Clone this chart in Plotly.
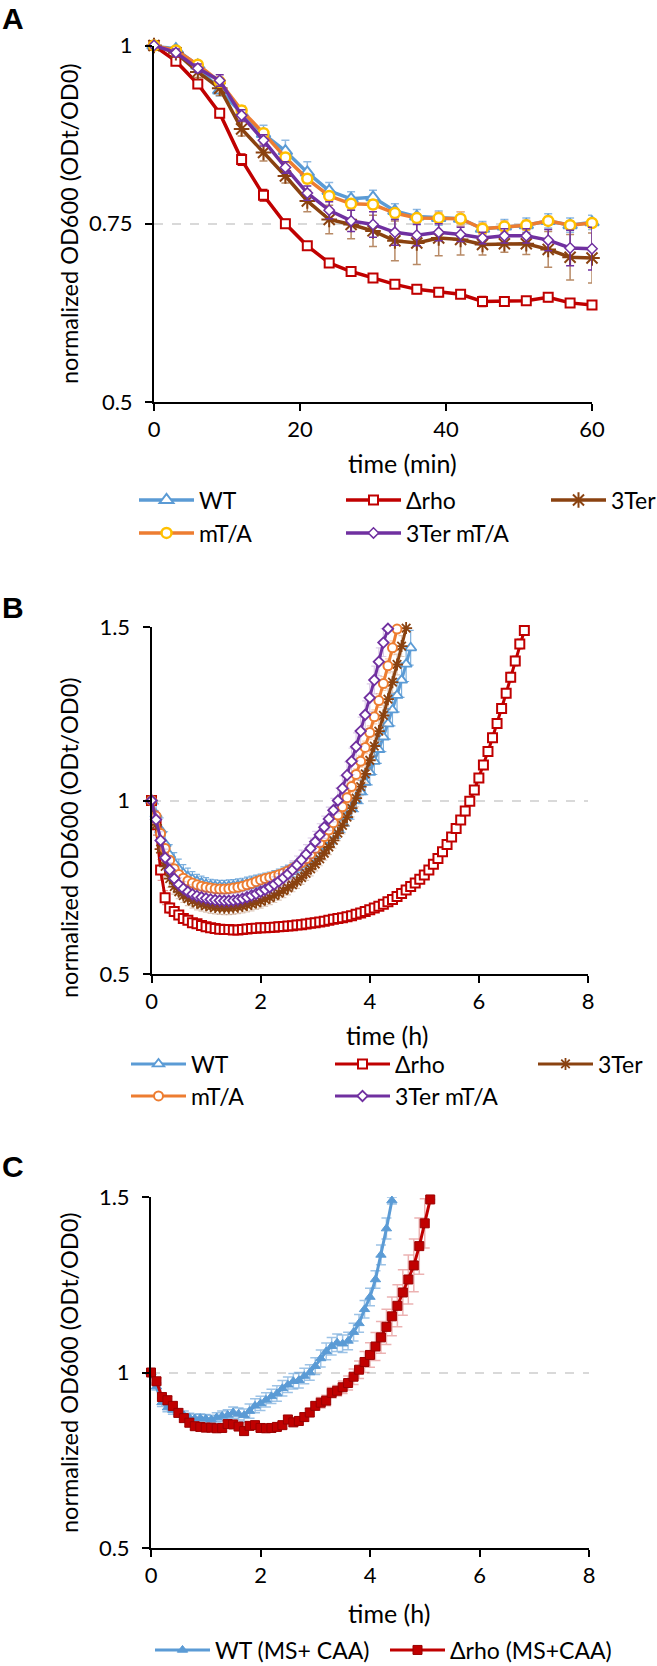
import plotly.graph_objects as go

W, H = 657, 1666

# ---------------- Panel A data (time in min) ----------------
time_A = [0, 3, 6, 9, 12, 15, 18, 21, 24, 27, 30, 33, 36, 39, 42, 45, 48, 51, 54, 57, 60]
A_WT = [1.0, 0.995, 0.972, 0.937, 0.905, 0.876, 0.852, 0.822, 0.796, 0.785, 0.787, 0.768, 0.76, 0.758, 0.757, 0.743, 0.746, 0.748, 0.754, 0.748, 0.752]
A_WT_err = [0, 0.004, 0.005, 0.008, 0.01, 0.012, 0.015, 0.015, 0.012, 0.01, 0.01, 0.01, 0.01, 0.01, 0.01, 0.01, 0.01, 0.01, 0.01, 0.01, 0.01]
A_rho = [1.0, 0.978, 0.946, 0.905, 0.84, 0.79, 0.75, 0.719, 0.695, 0.683, 0.674, 0.665, 0.658, 0.654, 0.651, 0.641, 0.641, 0.642, 0.647, 0.639, 0.636]
A_rho_err = [0, 0.004, 0.005, 0.006, 0.008, 0.008, 0.006, 0.005, 0.004, 0.004, 0.004, 0.005, 0.006, 0.006, 0.004, 0.007, 0.005, 0.004, 0.006, 0.004, 0.005]
A_3Ter = [1.0, 0.99, 0.963, 0.94, 0.883, 0.85, 0.817, 0.782, 0.756, 0.749, 0.74, 0.726, 0.723, 0.73, 0.728, 0.721, 0.722, 0.722, 0.714, 0.703, 0.702]
A_3Ter_err = [0, 0.005, 0.008, 0.01, 0.01, 0.012, 0.01, 0.015, 0.02, 0.02, 0.022, 0.028, 0.03, 0.025, 0.022, 0.015, 0.012, 0.015, 0.025, 0.032, 0.035]
A_mTA = [1.0, 0.993, 0.973, 0.949, 0.909, 0.877, 0.843, 0.813, 0.789, 0.778, 0.777, 0.765, 0.758, 0.758, 0.757, 0.743, 0.746, 0.748, 0.754, 0.748, 0.751]
A_mTA_err = [0, 0.005, 0.005, 0.006, 0.006, 0.006, 0.006, 0.006, 0.006, 0.005, 0.006, 0.006, 0.006, 0.008, 0.01, 0.008, 0.008, 0.007, 0.006, 0.006, 0.006]
A_3TermTA = [1.0, 0.99, 0.968, 0.951, 0.902, 0.867, 0.829, 0.793, 0.769, 0.754, 0.749, 0.738, 0.734, 0.738, 0.735, 0.73, 0.733, 0.733, 0.727, 0.716, 0.715]
A_3TermTA_err = [0, 0.005, 0.006, 0.008, 0.008, 0.008, 0.008, 0.01, 0.012, 0.015, 0.018, 0.018, 0.015, 0.012, 0.01, 0.008, 0.01, 0.01, 0.015, 0.025, 0.03]

# ---------------- Panel B data (5-min readings) ----------------
time_B_min = [0, 5, 10, 15, 20, 25, 30, 35, 40, 45, 50, 55, 60, 65, 70, 75, 80, 85, 90, 95,
              100, 105, 110, 115, 120, 125, 130, 135, 140, 145, 150, 155, 160, 165, 170, 175, 180, 185, 190, 195,
              200, 205, 210, 215, 220, 225, 230, 235, 240, 245, 250, 255, 260, 265, 270, 275, 280, 285, 290, 295,
              300, 305, 310, 315, 320, 325, 330, 335, 340, 345, 350, 355, 360, 365, 370, 375, 380, 385, 390, 395,
              400, 405, 410]
B_WT = [1.0, 0.96, 0.915, 0.875, 0.843, 0.82, 0.803, 0.79, 0.78, 0.773, 0.767, 0.762, 0.758, 0.755, 0.753, 0.752, 0.752, 0.753, 0.754, 0.756,
        0.758, 0.761, 0.764, 0.767, 0.77, 0.773, 0.776, 0.78, 0.784, 0.789, 0.794, 0.8, 0.807, 0.815, 0.824, 0.834, 0.845, 0.857, 0.87, 0.885,
        0.901, 0.918, 0.936, 0.956, 0.977, 1.0, 1.025, 1.052, 1.081, 1.113, 1.147, 1.183, 1.221, 1.261, 1.303, 1.347, 1.393, 1.44]
B_WT_err = [0, 0.03, 0.035, 0.035, 0.03, 0.03, 0.028, 0.025, 0.025, 0.022, 0.02, 0.02, 0.02, 0.018, 0.018, 0.018, 0.018, 0.018, 0.018, 0.018,
            0.018, 0.018, 0.018, 0.018, 0.018, 0.018, 0.018, 0.018, 0.018, 0.02, 0.02, 0.02, 0.02, 0.022, 0.022, 0.022, 0.024, 0.024, 0.025, 0.025,
            0.026, 0.027, 0.028, 0.03, 0.031, 0.032, 0.034, 0.035, 0.036, 0.038, 0.04, 0.042, 0.044, 0.046, 0.048, 0.05, 0.05, 0.05]
B_rho = [1.0, 0.93, 0.8, 0.72, 0.69, 0.68, 0.67, 0.66, 0.655, 0.648, 0.645, 0.64, 0.636, 0.633, 0.631, 0.629, 0.628, 0.628, 0.627, 0.627,
         0.628, 0.63, 0.631, 0.632, 0.633, 0.633, 0.634, 0.635, 0.636, 0.637, 0.638, 0.639, 0.641, 0.642, 0.644, 0.646, 0.648, 0.65, 0.652, 0.655,
         0.658, 0.66, 0.662, 0.665, 0.668, 0.672, 0.676, 0.68, 0.685, 0.69, 0.695, 0.701, 0.708, 0.715, 0.723, 0.732, 0.742, 0.752, 0.762, 0.773,
         0.785, 0.8, 0.816, 0.833, 0.852, 0.873, 0.895, 0.919, 0.944, 0.97, 0.998, 1.03, 1.065, 1.102, 1.141, 1.181, 1.222, 1.265, 1.309, 1.355,
         1.402, 1.451, 1.49]
B_rho_err = [0, 0.03, 0.03, 0.02, 0.015, 0.012, 0.01, 0.01, 0.01, 0.01, 0.008, 0.008, 0.008, 0.008, 0.008, 0.008, 0.008, 0.008, 0.008, 0.008,
             0.008, 0.008, 0.008, 0.008, 0.008, 0.008, 0.008, 0.008, 0.008, 0.008, 0.008, 0.008, 0.008, 0.008, 0.008, 0.008, 0.008, 0.008, 0.008, 0.008,
             0.008, 0.008, 0.008, 0.008, 0.008, 0.008, 0.008, 0.008, 0.008, 0.008, 0.008, 0.008, 0.009, 0.009, 0.009, 0.009, 0.009, 0.01, 0.01, 0.01,
             0.01, 0.01, 0.01, 0.01, 0.01, 0.011, 0.011, 0.011, 0.011, 0.012, 0.012, 0.012, 0.012, 0.013, 0.013, 0.013, 0.014, 0.014, 0.014, 0.015,
             0.015, 0.015, 0.01]
B_3Ter = [1.0, 0.93, 0.86, 0.81, 0.775, 0.752, 0.737, 0.726, 0.717, 0.71, 0.705, 0.701, 0.698, 0.695, 0.693, 0.692, 0.691, 0.691, 0.692, 0.694,
          0.696, 0.699, 0.702, 0.706, 0.71, 0.715, 0.72, 0.726, 0.733, 0.74, 0.748, 0.757, 0.767, 0.778, 0.79, 0.803, 0.817, 0.832, 0.848, 0.866,
          0.885, 0.906, 0.928, 0.952, 0.978, 1.007, 1.04, 1.077, 1.116, 1.157, 1.2, 1.245, 1.292, 1.341, 1.392, 1.445, 1.497]
B_3Ter_err = [0, 0.03, 0.03, 0.03, 0.025, 0.022, 0.02, 0.02, 0.02, 0.02, 0.02, 0.02, 0.02, 0.02, 0.02, 0.02, 0.02, 0.02, 0.02, 0.02,
              0.02, 0.02, 0.02, 0.02, 0.02, 0.02, 0.02, 0.02, 0.02, 0.02, 0.02, 0.02, 0.02, 0.02, 0.02, 0.02, 0.02, 0.02, 0.02, 0.022,
              0.022, 0.022, 0.024, 0.024, 0.025, 0.025, 0.026, 0.027, 0.028, 0.029, 0.03, 0.03, 0.03, 0.03, 0.03, 0.03, 0.0]
B_mTA = [1.0, 0.955, 0.905, 0.862, 0.828, 0.803, 0.787, 0.776, 0.768, 0.762, 0.757, 0.753, 0.75, 0.748, 0.746, 0.745, 0.745, 0.746, 0.748, 0.75,
         0.753, 0.757, 0.761, 0.766, 0.771, 0.775, 0.778, 0.782, 0.786, 0.791, 0.797, 0.804, 0.812, 0.821, 0.832, 0.846, 0.862, 0.878, 0.896, 0.915,
         0.936, 0.958, 0.982, 1.008, 1.04, 1.075, 1.113, 1.153, 1.196, 1.241, 1.288, 1.337, 1.388, 1.44, 1.494]
B_mTA_err = [0, 0.015, 0.015, 0.012, 0.012, 0.01, 0.01, 0.01, 0.01, 0.01, 0.01, 0.01, 0.01, 0.01, 0.01, 0.01, 0.01, 0.01, 0.01, 0.01,
             0.01, 0.01, 0.01, 0.01, 0.01, 0.01, 0.01, 0.01, 0.01, 0.01, 0.01, 0.01, 0.01, 0.012, 0.012, 0.012, 0.012, 0.012, 0.013, 0.013,
             0.014, 0.014, 0.015, 0.015, 0.016, 0.016, 0.017, 0.018, 0.019, 0.02, 0.02, 0.02, 0.02, 0.02, 0.0]
B_3TermTA = [1.0, 0.945, 0.885, 0.835, 0.8, 0.775, 0.758, 0.746, 0.737, 0.73, 0.725, 0.721, 0.718, 0.715, 0.713, 0.712, 0.711, 0.711, 0.712, 0.714,
             0.717, 0.721, 0.726, 0.731, 0.737, 0.743, 0.75, 0.758, 0.767, 0.777, 0.788, 0.8, 0.814, 0.829, 0.845, 0.862, 0.881, 0.901, 0.923, 0.947,
             0.972, 1.0, 1.035, 1.073, 1.113, 1.155, 1.2, 1.247, 1.296, 1.347, 1.4, 1.455, 1.495]
B_3TermTA_err = [0, 0.025, 0.025, 0.025, 0.02, 0.02, 0.02, 0.02, 0.02, 0.02, 0.02, 0.02, 0.02, 0.02, 0.02, 0.02, 0.02, 0.02, 0.02, 0.02,
                 0.02, 0.02, 0.02, 0.02, 0.02, 0.02, 0.02, 0.022, 0.022, 0.024, 0.024, 0.026, 0.026, 0.028, 0.028, 0.03, 0.03, 0.032, 0.032, 0.034,
                 0.034, 0.036, 0.036, 0.038, 0.038, 0.04, 0.04, 0.04, 0.04, 0.04, 0.04, 0.04, 0.0]

# ---------------- Panel C data (6-min readings, h) ----------------
time_C = [0.0, 0.1, 0.2, 0.3, 0.4, 0.5, 0.6, 0.7, 0.8, 0.9, 1.0, 1.1, 1.2, 1.3, 1.4, 1.5, 1.6, 1.7, 1.8, 1.9,
          2.0, 2.1, 2.2, 2.3, 2.4, 2.5, 2.6, 2.7, 2.8, 2.9, 3.0, 3.1, 3.2, 3.3, 3.4, 3.5, 3.6, 3.7, 3.8, 3.9,
          4.0, 4.1, 4.2, 4.3, 4.4, 4.5, 4.6, 4.7, 4.8, 4.9, 5.0, 5.1]
C_WT = [1.0, 0.96, 0.915, 0.9, 0.893, 0.885, 0.878, 0.872, 0.869, 0.87, 0.868, 0.866, 0.872, 0.876, 0.879, 0.886, 0.882, 0.878, 0.89, 0.905,
        0.912, 0.922, 0.932, 0.94, 0.955, 0.965, 0.975, 0.978, 0.99, 1.0, 1.018, 1.04, 1.06, 1.075, 1.085, 1.082, 1.09, 1.115, 1.14, 1.18,
        1.215, 1.265, 1.335, 1.41, 1.49]
C_WT_err = [0, 0.01, 0.012, 0.012, 0.012, 0.012, 0.012, 0.012, 0.012, 0.012, 0.012, 0.012, 0.013, 0.014, 0.015, 0.016, 0.017, 0.018, 0.02, 0.02,
            0.02, 0.02, 0.02, 0.022, 0.022, 0.022, 0.022, 0.022, 0.022, 0.022, 0.024, 0.024, 0.024, 0.025, 0.025, 0.025, 0.025, 0.025, 0.025, 0.025,
            0.025, 0.025, 0.028, 0.03, 0.01]
C_rho = [1.0, 0.975, 0.93, 0.921, 0.905, 0.885, 0.87, 0.857, 0.847, 0.845, 0.843, 0.843, 0.841, 0.842, 0.853, 0.852, 0.846, 0.833, 0.848, 0.85,
         0.842, 0.841, 0.842, 0.845, 0.85, 0.866, 0.858, 0.862, 0.873, 0.886, 0.905, 0.914, 0.92, 0.942, 0.948, 0.958, 0.97, 0.988, 1.008, 1.03,
         1.05, 1.074, 1.1, 1.13, 1.16, 1.19, 1.228, 1.265, 1.305, 1.36, 1.425, 1.493]
C_rho_err = [0, 0.01, 0.012, 0.012, 0.012, 0.012, 0.012, 0.012, 0.01, 0.01, 0.01, 0.01, 0.01, 0.01, 0.01, 0.01, 0.01, 0.012, 0.01, 0.01,
             0.01, 0.01, 0.01, 0.01, 0.01, 0.012, 0.012, 0.012, 0.012, 0.012, 0.012, 0.015, 0.015, 0.015, 0.015, 0.018, 0.02, 0.022, 0.025, 0.03,
             0.035, 0.04, 0.045, 0.05, 0.055, 0.06, 0.065, 0.07, 0.075, 0.08, 0.07, 0.0]

# tick labels
yticks_A = [0.5, 0.75, 1]
ytext_A = ["0.5", "0.75", "1"]
yticks_BC = [0.5, 1, 1.5]
ytext_BC = ["0.5", "1", "1.5"]
xticks_A = [0, 20, 40, 60]
xticks_BC = [0, 2, 4, 6, 8]

# ---------------- styling ----------------
FONT = "Lato"
BLUE, RED, BROWN, ORANGE, GOLD, PURPLE = "#5B9BD5", "#C00000", "#8A4210", "#ED7D31", "#FFC000", "#7030A0"


def px(x):
    return x / W


def py(y):
    return 1 - y / H


fig = go.Figure()
legend_boxes = {}
leg_counter = [0]


def add(x, y, err, name, xa, ya, leg_pos, line_color, line_w, marker, err_color, err_w=4, err_th=1.5):
    leg_counter[0] += 1
    key = "legend" if leg_counter[0] == 1 else "legend%d" % leg_counter[0]
    legend_boxes[key] = leg_pos
    fig.add_trace(go.Scatter(
        x=x, y=y, name=name, mode="lines+markers", xaxis=xa, yaxis=ya, legend=key, showlegend=True,
        line=dict(color=line_color, width=line_w), marker=marker, cliponaxis=False,
        error_y=dict(type="data", array=err, color=err_color, thickness=err_th, width=err_w),
    ))


# Panel A
add(time_A, A_WT, A_WT_err, "WT", "x", "y", (139, 500), BLUE, 3.5,
    dict(symbol="triangle-up", size=12, color="white", line=dict(color=BLUE, width=2)), "#8FB9E2")
add(time_A, A_rho, A_rho_err, "Δrho", "x", "y", (346, 500), RED, 3.5,
    dict(symbol="square", size=9, color="white", line=dict(color=RED, width=2)), RED)
add(time_A, A_3Ter, A_3Ter_err, "3Ter", "x", "y", (551, 500), BROWN, 3.5,
    dict(symbol="asterisk-open", size=13, line=dict(color=BROWN, width=2)), "#B88A66")
add(time_A, A_mTA, A_mTA_err, "mT/A", "x", "y", (139, 533), ORANGE, 3.5,
    dict(symbol="circle", size=10, color="white", line=dict(color=GOLD, width=2.5)), "#F4B183")
add(time_A, A_3TermTA, A_3TermTA_err, "3Ter mT/A", "x", "y", (346, 533), PURPLE, 3.5,
    dict(symbol="diamond", size=8, color="white", line=dict(color=PURPLE, width=1.5)), PURPLE)

# Panel B
tB = [m / 60 for m in time_B_min]
add(tB[:len(B_WT)], B_WT, B_WT_err, "WT", "x2", "y2", (131, 1064), BLUE, 3,
    dict(symbol="triangle-up", size=10, color="white", line=dict(color=BLUE, width=1.8)), "rgba(91,155,213,0.8)", 3, 1.2)
add(tB[:len(B_rho)], B_rho, B_rho_err, "Δrho", "x2", "y2", (335, 1064), RED, 3,
    dict(symbol="square", size=9, color="white", line=dict(color=RED, width=2)), "rgba(192,0,0,0.4)", 3, 1.2)
add(tB[:len(B_3Ter)], B_3Ter, B_3Ter_err, "3Ter", "x2", "y2", (538, 1064), BROWN, 3,
    dict(symbol="asterisk-open", size=10, line=dict(color=BROWN, width=1.8)), "rgba(160,100,60,0.35)", 3, 1.2)
add(tB[:len(B_mTA)], B_mTA, B_mTA_err, "mT/A", "x2", "y2", (131, 1096), ORANGE, 3,
    dict(symbol="circle", size=9, color="white", line=dict(color=ORANGE, width=2)), "rgba(237,125,49,0.4)", 3, 1.2)
add(tB[:len(B_3TermTA)], B_3TermTA, B_3TermTA_err, "3Ter mT/A", "x2", "y2", (335, 1096), PURPLE, 3,
    dict(symbol="diamond", size=8, color="white", line=dict(color=PURPLE, width=1.8)), "rgba(112,48,160,0.25)", 3, 1.2)

# Panel C
add(time_C[:len(C_WT)], C_WT, C_WT_err, "WT (MS+ CAA)", "x3", "y3", (155, 1650), BLUE, 3,
    dict(symbol="triangle-up", size=9, color=BLUE, line=dict(color=BLUE, width=1)), "rgba(91,155,213,0.6)", 5, 1.5)
add(time_C[:len(C_rho)], C_rho, C_rho_err, "Δrho (MS+CAA)", "x3", "y3", (390, 1650), RED, 3,
    dict(symbol="square", size=9, color=RED, line=dict(color="#9A0000", width=1)), "rgba(192,0,0,0.3)", 5, 1.5)

tickfont = dict(family=FONT, size=22, color="black")
axis_common = dict(showline=True, linecolor="black", linewidth=2, ticks="outside", ticklen=7, tickwidth=2,
                   tickcolor="black", tickfont=tickfont, zeroline=False, mirror=False, fixedrange=True)
xcommon = dict(axis_common, showgrid=False, ticklabelstandoff=0)
ycommon = dict(axis_common, showgrid=True, gridcolor="#D9D9D9", gridwidth=1.5, griddash="dash", ticklabelstandoff=8)

layout = dict(
    width=W, height=H, autosize=False, margin=dict(l=0, r=0, t=0, b=0, autoexpand=False),
    showlegend=True,
    paper_bgcolor="white", plot_bgcolor="white", font=dict(family=FONT, color="black"),
    xaxis=dict(xcommon, domain=[px(154), px(592)], range=[0, 60], tickvals=xticks_A, anchor="y"),
    yaxis=dict(ycommon, domain=[py(402), py(45.5)], range=[0.5, 1], tickvals=yticks_A, ticktext=ytext_A, anchor="x"),
    xaxis2=dict(xcommon, domain=[px(151.5), px(588)], range=[0, 8], tickvals=xticks_BC, anchor="y2"),
    yaxis2=dict(ycommon, domain=[py(974), py(627)], range=[0.5, 1.5], tickvals=yticks_BC, ticktext=ytext_BC, anchor="x2"),
    xaxis3=dict(xcommon, domain=[px(151), px(589)], range=[0, 8], tickvals=xticks_BC, anchor="y3"),
    yaxis3=dict(ycommon, domain=[py(1548), py(1197)], range=[0.5, 1.5], tickvals=yticks_BC, ticktext=ytext_BC, anchor="x3"),
)

legfont = dict(family=FONT, size=23, color="black")
for key, (xl, yc) in legend_boxes.items():
    layout[key] = dict(orientation="h", x=px(xl - 5), xanchor="left", y=py(yc), yanchor="middle",
                       itemwidth=55, font=legfont, bgcolor="rgba(0,0,0,0)", borderwidth=0, visible=True,
                       itemclick=False, itemdoubleclick=False)

ann = []
for letter, yc in [("A", 18), ("B", 607), ("C", 1166)]:
    ann.append(dict(text=letter, x=0, y=py(yc), xref="paper", yref="paper", xanchor="left", yanchor="middle",
                    showarrow=False, font=dict(family="Liberation Sans", size=30, color="black", weight="bold")))
for txt, xc, yc in [("time (min)", 402, 463), ("time (h)", 387, 1035), ("time (h)", 389, 1613)]:
    ann.append(dict(text=txt, x=px(xc), y=py(yc), xref="paper", yref="paper", xanchor="center", yanchor="middle",
                    showarrow=False, font=dict(family=FONT, size=25, color="black")))
for yc in [224, 838, 1373]:
    ann.append(dict(text="normalized OD600 (ODt/OD0)", x=px(69), y=py(yc), xref="paper", yref="paper",
                    xanchor="center", yanchor="middle", textangle=-90, showarrow=False,
                    font=dict(family=FONT, size=23.5, color="black")))
layout["annotations"] = ann

fig.update_layout(**layout)
fig.write_html("out.html", config={"displayModeBar": False},
               post_script="document.body.style.margin='0px';document.body.style.padding='0px';")
